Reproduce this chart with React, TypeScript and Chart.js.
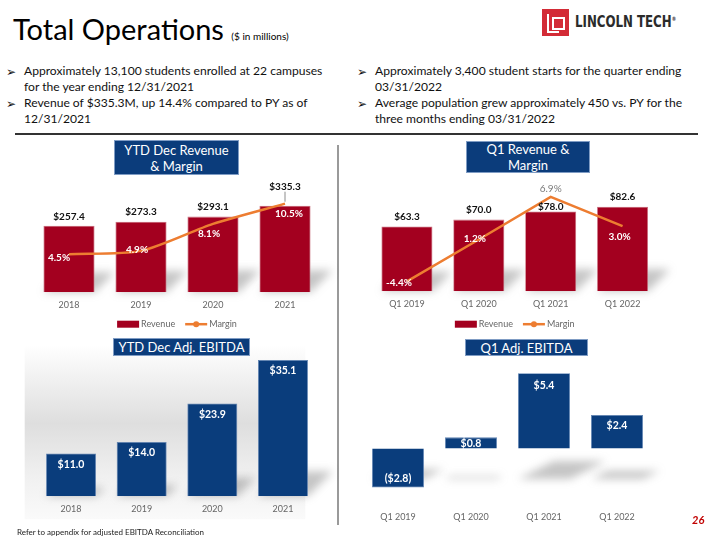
import React, { useEffect, useRef } from "react";
import { Chart, registerables } from "chart.js";
Chart.register(...registerables);

const FONT = "Lato, 'Open Sans', sans-serif";

const ytdYears = ["2018", "2019", "2020", "2021"];
const ytdRevenue = [257.4, 273.3, 293.1, 335.3];
const ytdMargin = [4.5, 4.9, 8.1, 10.5];
const q1Quarters = ["Q1 2019", "Q1 2020", "Q1 2021", "Q1 2022"];
const q1Revenue = [63.3, 70.0, 78.0, 82.6];
const q1Margin = [-4.4, 1.2, 6.9, 3.0];
const ytdEbitda = [11.0, 14.0, 23.9, 35.1];
const q1Ebitda = [-2.8, 0.8, 5.4, 2.4];

const RED = "#a3001f";
const BLUE = "#0a3d7c";
const ORANGE = "#ed7d31";
const AXIS_GRAY = "#666666";

const money = (v: number) => (v < 0 ? `($${Math.abs(v).toFixed(1)})` : `$${v.toFixed(1)}`);
const pct = (v: number) => `${v.toFixed(1)}%`;

function shadowPlugin(floorValue: number, maxH: number, ratio: number, dxRatio: number) {
  return {
    id: "shadows",
    beforeDatasetsDraw(chart: any) {
      const ctx = chart.ctx;
      const meta = chart.getDatasetMeta(0);
      const floor = chart.scales.y.getPixelForValue(floorValue);
      ctx.save();
      ctx.filter = "blur(4px)";
      ctx.fillStyle = "rgba(110,110,110,0.40)";
      meta.data.forEach((el: any) => {
        const p = el.getProps(["x", "y", "base", "width"], true);
        const h = Math.min(maxH, Math.abs(p.base - p.y) * ratio);
        const dx = h * dxRatio;
        const l = p.x - p.width / 2;
        const r = p.x + p.width / 2;
        ctx.beginPath();
        ctx.moveTo(l, floor);
        ctx.lineTo(r, floor);
        ctx.lineTo(r + dx, floor - h);
        ctx.lineTo(l + dx, floor - h);
        ctx.closePath();
        ctx.fill();
      });
      ctx.restore();
    },
  };
}

function legendPlugin(offsetY: number) {
  return {
    id: "customLegend",
    afterDraw(chart: any) {
      const ctx = chart.ctx;
      const ca = chart.chartArea;
      const l1 = chart.data.datasets[0].label;
      const l2 = chart.data.datasets[1].label;
      ctx.save();
      ctx.font = `9px ${FONT}`;
      const w1 = ctx.measureText(l1).width;
      const w2 = ctx.measureText(l2).width;
      const total = 22 + 2 + w1 + 10 + 22 + 2 + w2;
      let x = (ca.left + ca.right) / 2 - total / 2;
      const y = ca.bottom + offsetY;
      ctx.fillStyle = RED;
      ctx.fillRect(x, y - 3.5, 22, 7);
      x += 24;
      ctx.fillStyle = AXIS_GRAY;
      ctx.textBaseline = "middle";
      ctx.fillText(l1, x, y);
      x += w1 + 10;
      ctx.strokeStyle = ORANGE;
      ctx.lineWidth = 2.5;
      ctx.beginPath();
      ctx.moveTo(x, y);
      ctx.lineTo(x + 22, y);
      ctx.stroke();
      ctx.fillStyle = ORANGE;
      ctx.beginPath();
      ctx.arc(x + 11, y, 3, 0, Math.PI * 2);
      ctx.fill();
      x += 24;
      ctx.fillStyle = AXIS_GRAY;
      ctx.fillText(l2, x, y);
      ctx.restore();
    },
  };
}

function barLabelsPlugin(opts: {
  dataset: number;
  offsets: number[];
  dx?: number[];
  color: string | string[];
  bold?: boolean | boolean[];
  fmt: (v: number) => string;
  size?: number;
  leader?: number[];
}) {
  return {
    id: "labels" + opts.dataset + Math.random(),
    afterDatasetsDraw(chart: any) {
      const ctx = chart.ctx;
      const meta = chart.getDatasetMeta(opts.dataset);
      const data = chart.data.datasets[opts.dataset].data;
      ctx.save();
      ctx.textAlign = "center";
      ctx.textBaseline = "middle";
      meta.data.forEach((el: any, i: number) => {
        const p = el.getProps(["x", "y"], true);
        const col = Array.isArray(opts.color) ? opts.color[i] : opts.color;
        const b = Array.isArray(opts.bold) ? opts.bold[i] : opts.bold !== false;
        ctx.font = `${b ? "bold " : ""}${opts.size || 10}px ${FONT}`;
        ctx.fillStyle = col;
        const tx = p.x + (opts.dx ? opts.dx[i] : 0);
        const ty = p.y + opts.offsets[i];
        ctx.fillText(opts.fmt(data[i]), tx, ty);
        if (opts.leader && opts.leader[i]) {
          ctx.strokeStyle = "#8c8c8c";
          ctx.lineWidth = 1;
          ctx.beginPath();
          ctx.moveTo(p.x, ty + 5);
          ctx.lineTo(p.x, ty + 5 + opts.leader[i]);
          ctx.stroke();
        }
      });
      ctx.restore();
    },
  };
}

function bgGradientPlugin() {
  return {
    id: "bggrad",
    beforeDraw(chart: any) {
      const ctx = chart.ctx;
      const ca = chart.chartArea;
      const top = ca.top - 10;
      const bottom = ca.bottom + 23;
      const g = ctx.createLinearGradient(0, top, 0, bottom);
      g.addColorStop(0, "#ffffff");
      g.addColorStop(0.45, "#dedede");
      g.addColorStop(0.75, "#f0f0f0");
      g.addColorStop(1, "#fafafa");
      ctx.save();
      ctx.fillStyle = g;
      ctx.fillRect(ca.left - 11, top, ca.right - ca.left - 2, bottom - top);
      ctx.restore();
    },
  };
}

const xAxis = {
  type: "category",
  grid: { display: false, drawTicks: false },
  border: { display: false },
  ticks: { color: AXIS_GRAY, font: { family: FONT, size: 9 }, padding: 7 },
};

const baseOpts = {
  responsive: false,
  animation: false,
  devicePixelRatio: 1,
};

function ChartCanvas({ left, top, width, height, build }: any) {
  const ref = useRef<HTMLCanvasElement | null>(null);
  useEffect(() => {
    const chart = new Chart(ref.current as HTMLCanvasElement, build());
    return () => chart.destroy();
  }, []);
  return (
    <canvas
      ref={ref}
      width={width}
      height={height}
      style={{ position: "absolute", left, top, width, height, display: "block" }}
    />
  );
}

function ytdRevenueConfig(): any {
  return {
    type: "bar",
    data: {
      labels: ytdYears,
      datasets: [
        { type: "bar", label: "Revenue", data: ytdRevenue, backgroundColor: RED, borderColor: "#c9707f", borderWidth: 0.8, barPercentage: 0.71, categoryPercentage: 1, yAxisID: "y", order: 2 },
        { type: "line", label: "Margin", data: ytdMargin, borderColor: ORANGE, borderWidth: 2.5, pointRadius: 0, tension: 0.25, yAxisID: "y1", order: 1 },
      ],
    },
    options: {
      ...baseOpts,
      layout: { padding: { left: 33, right: 19, top: 10, bottom: 18 } },
      plugins: { legend: { display: false }, tooltip: { enabled: false } },
      scales: {
        x: xAxis,
        y: { display: false, min: 0, max: 435 },
        y1: { display: false, min: 0, max: 13.3 },
      },
    },
    plugins: [
      shadowPlugin(0, 22, 0.3, 1.0),
      barLabelsPlugin({ dataset: 0, offsets: [-9, -10, -10, -19], color: "#111", fmt: money, leader: [0, 0, 0, 10] }),
      barLabelsPlugin({ dataset: 1, offsets: [4, -1, 10, 10], dx: [-10, -4, -4, 4], color: "#ffffff", fmt: pct }),
      legendPlugin(32),
    ],
  };
}

function q1RevenueConfig(): any {
  return {
    type: "bar",
    data: {
      labels: q1Quarters,
      datasets: [
        { type: "bar", label: "Revenue", data: q1Revenue, backgroundColor: RED, borderColor: "#c9707f", borderWidth: 0.8, barPercentage: 0.71, categoryPercentage: 1, yAxisID: "y", order: 2 },
        { type: "line", label: "Margin", data: q1Margin, borderColor: ORANGE, borderWidth: 2.5, pointRadius: 0, tension: 0, yAxisID: "y1", order: 1 },
      ],
    },
    options: {
      ...baseOpts,
      layout: { padding: { left: 31, right: 61.5, top: 10, bottom: 19 } },
      plugins: { legend: { display: false }, tooltip: { enabled: false } },
      scales: {
        x: xAxis,
        y: { display: false, min: 0, max: 108.7 },
        y1: { display: false, min: -5.72, max: 9.17 },
      },
    },
    plugins: [
      shadowPlugin(0, 22, 0.3, 1.0),
      barLabelsPlugin({ dataset: 0, offsets: [-10, -10, -5, -10], color: "#111", fmt: money }),
      barLabelsPlugin({ dataset: 1, offsets: [1, -1, -8, 11], dx: [-8, -4, 0, -3], color: ["#fff", "#fff", "#7a7a7a", "#fff"], bold: [true, true, false, true], fmt: pct }),
      legendPlugin(33),
    ],
  };
}

function ytdEbitdaConfig(): any {
  return {
    type: "bar",
    data: {
      labels: ytdYears,
      datasets: [
        { label: "Adj. EBITDA", data: ytdEbitda, backgroundColor: BLUE, borderColor: "#5f83b3", borderWidth: 0.8, barPercentage: 0.707, categoryPercentage: 1 },
      ],
    },
    options: {
      ...baseOpts,
      layout: { padding: { left: 35.7, right: 21.7, top: 15, bottom: 19 } },
      plugins: { legend: { display: false }, tooltip: { enabled: false } },
      scales: {
        x: xAxis,
        y: { display: false, min: 0, max: 36.4 },
      },
    },
    plugins: [
      bgGradientPlugin(),
      shadowPlugin(0, 25, 0.2, 1.0),
      barLabelsPlugin({ dataset: 0, offsets: [11, 11, 11, 11], color: "#ffffff", fmt: money, size: 10.5 }),
    ],
  };
}

function q1EbitdaConfig(): any {
  return {
    type: "bar",
    data: {
      labels: q1Quarters,
      datasets: [
        { label: "Adj. EBITDA", data: q1Ebitda, backgroundColor: BLUE, borderColor: "#5f83b3", borderWidth: 0.8, barPercentage: 0.712, categoryPercentage: 1 },
      ],
    },
    options: {
      ...baseOpts,
      layout: { padding: { left: 21.5, right: 66.5, top: 15, bottom: 11 } },
      plugins: { legend: { display: false }, tooltip: { enabled: false } },
      scales: {
        x: xAxis,
        y: { display: false, min: -4.0, max: 6.71 },
      },
    },
    plugins: [
      shadowPlugin(-2.2, 18, 0.25, 2.0),
      barLabelsPlugin({ dataset: 0, offsets: [-9, 6, 12, 11], color: "#ffffff", fmt: money, size: 10.5 }),
    ],
  };
}

const abs = (left: number, top: number, extra: any = {}) => ({ position: "absolute" as const, left, top, ...extra });

function Bullet({ x, y, lines }: { x: number; y: number; lines: string[] }) {
  return (
    <div style={abs(x, y, { fontSize: 12.1, lineHeight: "16px", color: "#111", whiteSpace: "nowrap" })}>
      <span style={abs(0, 1, { fontFamily: "'DejaVu Sans', sans-serif", fontSize: 12 })}>➢</span>
      <div style={{ marginLeft: 18 }}>
        {lines.map((l, i) => (
          <div key={i}>{l}</div>
        ))}
      </div>
    </div>
  );
}

function TitleBox({ x, y, w, h, lines }: any) {
  return (
    <div
      style={abs(x, y, {
        width: w,
        height: h,
        boxSizing: "border-box",
        background: "#0b3c7b",
        border: "1px solid #7f9cc4",
        color: "#fff",
        fontSize: 13,
        lineHeight: "16px",
        textAlign: "center",
        display: "flex",
        flexDirection: "column",
        justifyContent: "center",
      })}
    >
      {lines.map((l: string, i: number) => (
        <div key={i}>{l}</div>
      ))}
    </div>
  );
}

export default function App() {
  return (
    <div
      style={{
        position: "fixed",
        left: 0,
        top: 0,
        width: 720,
        height: 540,
        background: "#fff",
        overflow: "hidden",
        fontFamily: FONT,
      }}
    >
      <div style={abs(13, 11, { fontSize: 29, lineHeight: "36px", color: "#000", whiteSpace: "nowrap" })}>
        Total Operations <span style={{ fontSize: 10 }}>($ in millions)</span>
      </div>

      <div style={abs(542, 9, { width: 27, height: 27, background: "#d32b36" })}>
        <div style={abs(5, 5, { width: 10, height: 17, borderLeft: "2px solid #fff", borderBottom: "2px solid #fff" })} />
        <div style={abs(10, 8, { width: 9, height: 9, border: "2px solid #fff" })} />
      </div>
      <div
        style={abs(575, 12, {
          fontFamily: "'DejaVu Sans Condensed', 'DejaVu Sans', sans-serif",
          fontWeight: "bold",
          fontSize: 16,
          color: "#2b2b2b",
          whiteSpace: "nowrap",
          transform: "scaleX(0.82)",
          transformOrigin: "left top",
        })}
      >
        LINCOLN TECH<sup style={{ fontSize: 6 }}>®</sup>
      </div>

      <Bullet x={6} y={63} lines={["Approximately 13,100 students enrolled at 22 campuses", "for the year ending 12/31/2021"]} />
      <Bullet x={6} y={95} lines={["Revenue of $335.3M, up 14.4% compared to PY as of", "12/31/2021"]} />
      <Bullet x={357} y={63} lines={["Approximately 3,400 student starts for the quarter ending", "03/31/2022"]} />
      <Bullet x={357} y={95} lines={["Average population grew approximately 450 vs. PY for the", "three months ending 03/31/2022"]} />

      <div style={abs(15, 133, { width: 683, height: 2, background: "#333" })} />
      <div style={abs(337, 145, { width: 2, height: 380, background: "#9a9a9a" })} />

      <ChartCanvas left={0} top={170} width={340} height={165} build={ytdRevenueConfig} />
      <ChartCanvas left={340} top={170} width={380} height={165} build={q1RevenueConfig} />
      <ChartCanvas left={0} top={340} width={340} height={200} build={ytdEbitdaConfig} />
      <ChartCanvas left={340} top={340} width={380} height={200} build={q1EbitdaConfig} />

      <TitleBox x={114} y={140} w={125} h={35} lines={["YTD Dec Revenue", "& Margin"]} />
      <TitleBox x={466} y={141} w={124} h={32} lines={["Q1 Revenue &", "Margin"]} />
      <TitleBox x={113} y={338} w={137} h={18} lines={["YTD Dec Adj. EBITDA"]} />
      <TitleBox x={465} y={339} w={123} h={17} lines={["Q1 Adj. EBITDA"]} />

      <div style={abs(17, 527, { fontSize: 8, color: "#222", whiteSpace: "nowrap" })}>
        Refer to appendix for adjusted EBITDA Reconciliation
      </div>
      <div style={abs(692, 513, { fontSize: 11, fontWeight: "bold", fontStyle: "italic", color: "#c00000" })}>26</div>
    </div>
  );
}
